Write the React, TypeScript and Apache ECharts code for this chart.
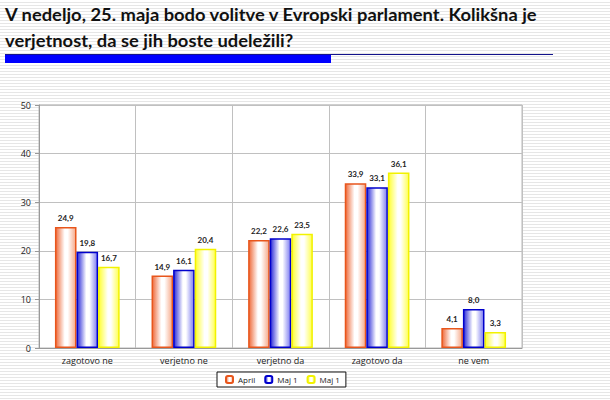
import React, { useEffect, useRef } from "react";
import * as echarts from "echarts";

const categories = ["zagotovo ne", "verjetno ne", "verjetno da", "zagotovo da", "ne vem"];
const april = [24.9, 14.9, 22.2, 33.9, 4.1];
const maj1a = [19.8, 16.1, 22.6, 33.1, 8.0];
const maj1b = [16.7, 20.4, 23.5, 36.1, 3.3];
const seriesNames = ["April", "Maj 1", "Maj 1 "];
const titleLines = [
  "V nedeljo, 25. maja bodo volitve v Evropski parlament. Kolikšna je",
  "verjetnost, da se jih boste udeležili?",
];

const grad = (edge: string, right: string) =>
  new echarts.graphic.LinearGradient(0, 0, 1, 0, [
    { offset: 0, color: edge },
    { offset: 0.45, color: "#ffffff" },
    { offset: 0.6, color: "#ffffff" },
    { offset: 1, color: right },
  ]);

export default function App() {
  const ref = useRef<HTMLDivElement>(null);
  useEffect(() => {
    if (!ref.current) return;
    const chart = echarts.init(ref.current, undefined, { renderer: "svg" });
    const styles = [
      { border: "#E8561C", edge: "#EE6A3A", right: "#F6A888" },
      { border: "#0000CC", edge: "#2A2AD8", right: "#7C7CF0" },
      { border: "#F2F200", edge: "#FFFF30", right: "#FFFF50" },
    ];
    const datas = [april, maj1a, maj1b];
    const labelFmt = (p: any) => Number(p.value).toFixed(1).replace(".", ",");
    chart.setOption({
      animation: false,
      textStyle: { fontFamily: "Open Sans" },
      grid: {
        left: 39,
        right: 88,
        top: 105,
        bottom: 52,
        show: true,
        backgroundColor: "#ffffff",
        borderColor: "#b8b8b8",
        borderWidth: 1,
      },
      graphic: [
        {
          type: "text",
          x: 5,
          y: 6,
          scaleX: 1.08,
          style: { text: titleLines[0], font: "bold 17px Lato", fill: "#111", align: "left", verticalAlign: "top" },
        },
        {
          type: "text",
          x: 5,
          y: 32,
          scaleX: 1.08,
          style: { text: titleLines[1], font: "bold 17px Lato", fill: "#111", align: "left", verticalAlign: "top" },
        },
        { type: "rect", shape: { x: 5, y: 54, width: 548, height: 1 }, style: { fill: "#14148c" } },
        { type: "rect", shape: { x: 5, y: 55, width: 326, height: 8 }, style: { fill: "#0000ff" } },
      ],
      legend: {
        bottom: 13,
        left: 217,
        itemWidth: 7,
        itemHeight: 7,
        itemGap: 9,
        padding: [3, 6, 3, 8],
        borderColor: "#111",
        borderWidth: 1,
        backgroundColor: "#fff",
        textStyle: { fontSize: 8, fontFamily: "Open Sans", color: "#222" },
        formatter: (n: string) => n.trim(),
        data: seriesNames,
      },
      xAxis: {
        type: "category",
        data: categories,
        axisLine: { lineStyle: { color: "#999" } },
        axisTick: { show: false },
        axisLabel: { fontSize: 9, color: "#222", margin: 8 },
        splitLine: { show: true, lineStyle: { color: "#c0c0c0" } },
      },
      yAxis: {
        type: "value",
        min: 0,
        max: 50,
        interval: 10,
        axisLine: { show: true, lineStyle: { color: "#999" } },
        axisTick: { show: true, length: 4, lineStyle: { color: "#999" } },
        axisLabel: { fontSize: 9, color: "#222", margin: 8 },
        splitLine: { lineStyle: { color: "#c0c0c0" } },
      },
      series: datas.map((d, i) => ({
        type: "bar",
        name: seriesNames[i],
        data: d,
        barGap: "0%",
        barCategoryGap: "33%",
        itemStyle: {
          color: grad(styles[i].edge, styles[i].right),
          borderColor: styles[i].border,
          borderWidth: 1.5,
        },
        label: {
          show: true,
          position: "top",
          distance: 5,
          fontSize: 8,
          fontWeight: "bold",
          fontFamily: "Lato",
          color: "#222",
          formatter: labelFmt,
        },
      })),
    });
    return () => chart.dispose();
  }, []);
  return (
    <div
      ref={ref}
      style={{
        position: "absolute",
        left: 0,
        top: 0,
        width: 610,
        height: 400,
        background: "repeating-linear-gradient(180deg, #ffffff 0px, #ffffff 2px, #e6e6e6 2px, #e6e6e6 3px)",
      }}
    />
  );
}
